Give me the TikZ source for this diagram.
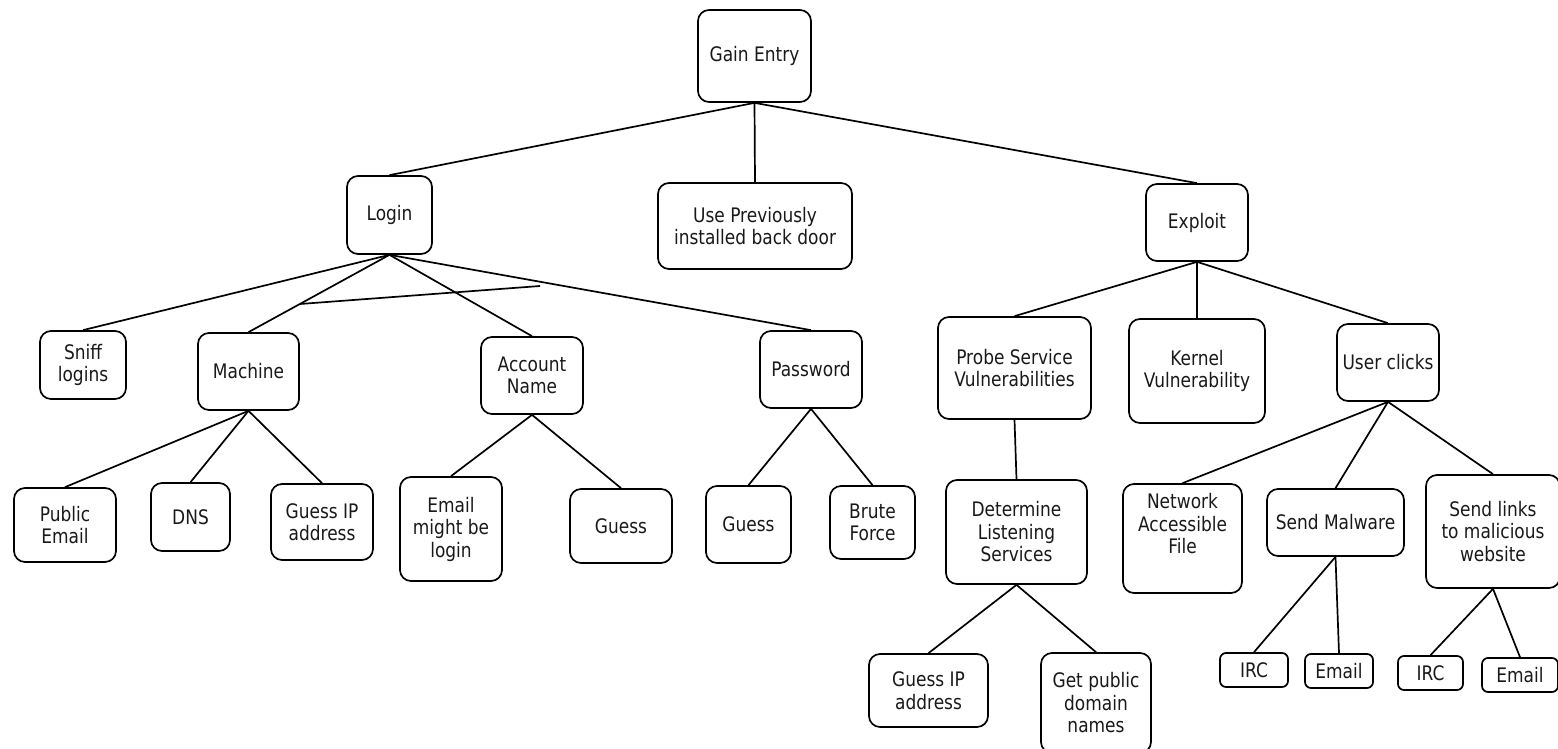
\documentclass[tikz,border=0pt]{standalone}
\usepackage{fontspec}
\setmainfont{DejaVu Sans}[FakeStretch=0.85]
\begin{document}
\begin{tikzpicture}[x=1pt,y=-1pt,
  box/.style={draw=black, line width=1.7pt, rounded corners=11pt, inner sep=0pt,
    align=center, text=black!90, font=\fontsize{20}{22.5}\selectfont},
  link/.style={draw=black, line width=1.7pt}]
\useasboundingbox (0,0) rectangle (1558,749);

% top level
\node[box, minimum width=113, minimum height=92] (gain) at (754.5,56) {Gain Entry};
\node[box, minimum width=85, minimum height=78] (login) at (389.5,215) {Login};
\node[box, minimum width=194, minimum height=86] (backdoor) at (755,226) {Use Previously\\installed back door};
\node[box, minimum width=102, minimum height=77] (exploit) at (1197,222.5) {Exploit};

% login branch
\node[box, minimum width=86, minimum height=68] (sniff) at (83,365) {Sniff\\logins};
\node[box, minimum width=101, minimum height=77] (machine) at (248.5,371.5) {Machine};
\node[box, minimum width=102, minimum height=77] (account) at (532,375.5) {Account\\Name};
\node[box, minimum width=102, minimum height=77] (password) at (811,369.5) {Password};

\node[box, minimum width=102, minimum height=74] (pubemail) at (65,525) {Public\\Email};
\node[box, minimum width=79, minimum height=68] (dns) at (190.5,517) {DNS};
\node[box, minimum width=102, minimum height=76] (guessipA) at (322,522) {Guess IP\\address};
\node[box, minimum width=102, minimum height=104] (emaillogin) at (451,529) {Email\\might be\\login};
\node[box, minimum width=102, minimum height=74] (guessacct) at (621,526) {Guess};
\node[box, minimum width=85, minimum height=77] (guesspw) at (748.5,524.5) {Guess};
\node[box, minimum width=85, minimum height=73] (brute) at (872.5,522.5) {Brute\\Force};

% exploit branch
\node[box, minimum width=153, minimum height=102] (probe) at (1014.5,368) {Probe Service\\Vulnerabilities};
\node[box, minimum width=136, minimum height=104] (kernel) at (1197,371) {Kernel\\Vulnerability};
\node[box, minimum width=102, minimum height=77] (clicks) at (1388,362.5) {User clicks};

\node[box, minimum width=141, minimum height=104] (listen) at (1016.5,532) {Determine\\Listening\\Services};
\node[box, minimum width=119, minimum height=109] (netfile) at (1182.5,538.5) {Network\\Accessible\\File\\\strut};
\node[box, minimum width=137, minimum height=67] (malware) at (1335.5,522.5) {Send Malware};
\node[box, minimum width=134, minimum height=113] (links) at (1493,531.5) {Send links\\to malicious\\website};

\node[box, minimum width=119, minimum height=73] (guessipB) at (928.5,690.5) {Guess IP\\address};
\node[box, minimum width=110, minimum height=100] (domains) at (1096,703) {Get public\\domain\\names};
\node[box, rounded corners=6pt, minimum width=68, minimum height=34] (ircA) at (1254,670) {IRC};
\node[box, rounded corners=6pt, minimum width=68, minimum height=34] (emailA) at (1339,671) {Email};
\node[box, rounded corners=6pt, minimum width=65, minimum height=34] (ircB) at (1430.5,673) {IRC};
\node[box, rounded corners=6pt, minimum width=76, minimum height=34] (emailB) at (1520,675) {Email};

% loose segment under the login fan
\coordinate (strayA) at (300,304);
\coordinate (strayB) at (540,286);

% connectors
\draw[link] (gain.south) -- (login.north);
\draw[link] (gain.south) -- (backdoor.north);
\draw[link] (gain.south) -- (exploit.north);

\draw[link] (login.south) -- (sniff.north);
\draw[link] (login.south) -- (machine.north);
\draw[link] (login.south) -- (account.north);
\draw[link] (login.south) -- (password.north);
\draw[link] (strayA) -- (strayB);

\draw[link] (machine.south) -- (pubemail.north);
\draw[link] (machine.south) -- (dns.north);
\draw[link] (machine.south) -- (guessipA.north);
\draw[link] (account.south) -- (emaillogin.north);
\draw[link] (account.south) -- (guessacct.north);
\draw[link] (password.south) -- (guesspw.north);
\draw[link] (password.south) -- (brute.north);

\draw[link] (exploit.south) -- (probe.north);
\draw[link] (exploit.south) -- (kernel.north);
\draw[link] (exploit.south) -- (clicks.north);

\draw[link] (probe.south) -- (listen.north);
\draw[link] (listen.south) -- (guessipB.north);
\draw[link] (listen.south) -- (domains.north);

\draw[link] (clicks.south) -- (netfile.north);
\draw[link] (clicks.south) -- (malware.north);
\draw[link] (clicks.south) -- (links.north);

\draw[link] (malware.south) -- (ircA.north);
\draw[link] (malware.south) -- (emailA.north);
\draw[link] (links.south) -- (ircB.north);
\draw[link] (links.south) -- (emailB.north);
\end{tikzpicture}
\end{document}
